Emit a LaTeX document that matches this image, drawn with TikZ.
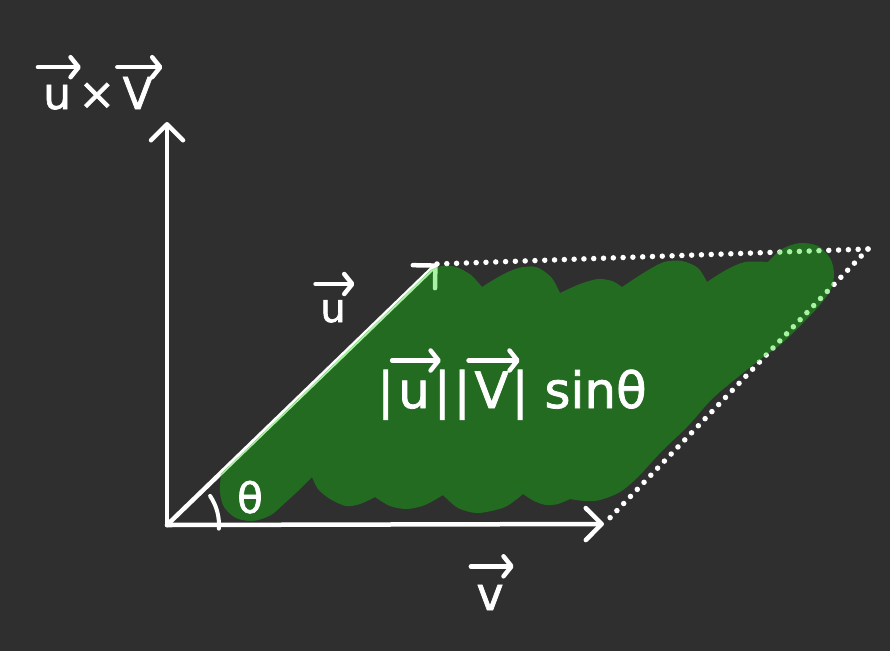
\documentclass[tikz,border=0pt]{standalone}
\usepackage{fontspec}
\setmainfont[FakeBold=1.5]{DejaVu Sans}
\usetikzlibrary{arrows.meta}
\definecolor{bg}{HTML}{2F2F2F}
\definecolor{blobgreen}{HTML}{246B22}
\definecolor{lightgr}{HTML}{A9F2A3}
\tikzset{
  axisline/.style={line width=4.5pt, line cap=round, line join=round,
    -{Straight Barb[length=16pt,width=32pt,round]}},
  dotline/.style={line width=5.5pt, line cap=round, dash pattern=on 0pt off 9.8pt},
  lbl/.style={text=white, inner sep=0pt, anchor=base},
  hvarrow/.style={overlay, draw=white, line width=4.5pt, line cap=round,
    -{Straight Barb[length=8pt,width=20pt,round]}}
}
\newcommand\hv[1]{\tikz[baseline=(t.base)]{\node[inner sep=0pt,outer sep=0pt,anchor=base](t){#1};
  \draw[hvarrow] ([xshift=-0.12em,yshift=0.95em]t.base west) -- ([xshift=0.22em,yshift=0.95em]t.base east);}}
\newcommand\blobpath{(221,474) -- (431,270)
 -- plot[smooth] coordinates {(431,270) (442,266) (456,267) (471,275) (482,287)}
 -- plot[smooth] coordinates {(482,287) (500,276) (518,268) (536,267) (551,277) (560,293)}
 -- plot[smooth] coordinates {(560,293) (580,284) (598,279) (612,281) (622,287)}
 -- plot[smooth] coordinates {(622,287) (645,272) (664,262) (682,261) (698,268) (707,282)}
 -- plot[smooth] coordinates {(707,282) (726,270) (745,262) (768,262)}
 -- plot[smooth] coordinates {(768,262) (782,249) (800,243) (818,246) (830,258) (834,273) (831,289) (819,306) (798,328) (780,345) (762,358) (738,377) (712,399) (688,426) (662,451) (638,477) (620,492) (600,500) (585,501) (570,499)}
 -- plot[smooth] coordinates {(570,499) (558,504) (546,505) (534,501) (523,494)}
 -- plot[smooth] coordinates {(523,494) (505,507) (478,513) (458,508) (443,495)}
 -- plot[smooth] coordinates {(443,495) (425,505) (407,509) (390,506) (375,497)}
 -- plot[smooth] coordinates {(375,497) (360,504) (346,506) (330,499) (318,489) (312,477)}
 -- plot[smooth] coordinates {(312,477) (298,491) (286,502) (271,515) (253,521) (236,518) (224,507) (220,492) (221,474)}
 -- cycle}
\newcommand\alllines[1]{%
  \draw[axisline,#1] (O) -- (Y);
  \draw[axisline,#1] (O) -- (X);
  \draw[axisline,#1] (O) -- (U);
  \draw[dotline,#1] (U) -- (C);
  \draw[dotline,#1] (C) -- (X);}
\begin{document}
\begin{tikzpicture}[x=1pt,y=-1pt]
\fill[bg] (0,0) rectangle (890,651);
\useasboundingbox (0,0) rectangle (890,651);
\coordinate (O) at (167,525);
\coordinate (Y) at (167,122);
\coordinate (X) at (604,524);
\coordinate (U) at (437,264);
\coordinate (C) at (868,249);
\alllines{white}
\fill[blobgreen] \blobpath;
\begin{scope}
  \clip \blobpath;
  \alllines{lightgr}
\end{scope}
\draw[white, line width=4pt, line cap=round] (O) ++(4:52) arc[start angle=4, end angle=-34, radius=52];
\node[lbl, font=\fontsize{44}{50}\selectfont] (uxv) at (98,109) {\hv{u}\,×\,\hv{V}};
\node[lbl, font=\fontsize{40}{46}\selectfont] (ulab) at (333,322) {\hv{u}};
\node[lbl, font=\fontsize{46}{52}\selectfont] (vlab) at (490,610) {\hv{v}};
\node[lbl, font=\fontsize{42}{48}\selectfont] (th) at (250,513) {θ};
\node[lbl, font=\fontsize{50}{58}\selectfont] (area) at (512,408) {|\kern4pt\hv{u}\kern4pt|\kern3pt|\kern4pt\hv{V}\kern3pt| sinθ};
\end{tikzpicture}
\end{document}
